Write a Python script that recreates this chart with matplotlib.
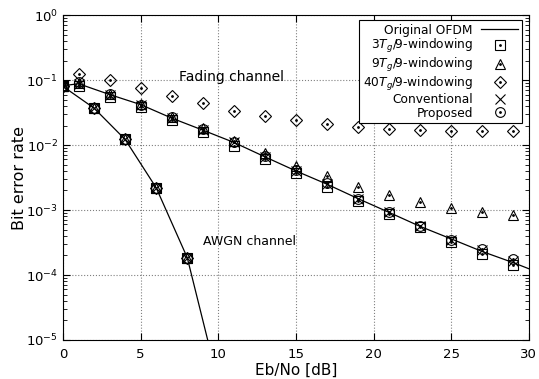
import matplotlib
matplotlib.use("Agg")
import matplotlib.pyplot as plt
import numpy as np
from matplotlib.legend_handler import HandlerTuple

# Fading channel, Eb/No points
snr_fading = [0, 1, 3, 5, 7, 9, 11, 13, 15, 17, 19, 21, 23, 25, 27, 29, 30]
ber_original_fading = [0.082, 0.088, 0.060, 0.042, 0.026, 0.017, 0.011, 0.0066, 0.0040,
                       0.0025, 0.0015, 0.00092, 0.00056, 0.00036, 0.00023, 0.000155, 0.000125]

snr_mark = [0, 1, 3, 5, 7, 9, 11, 13, 15, 17, 19, 21, 23, 25, 27, 29]
ber_3tg = [0.080, 0.080, 0.055, 0.038, 0.024, 0.016, 0.0098, 0.0060, 0.0037,
           0.0023, 0.0014, 0.00088, 0.00055, 0.00032, 0.00021, 0.000145]
ber_9tg = [0.082, 0.090, 0.062, 0.043, 0.027, 0.018, 0.0115, 0.0075, 0.0048,
           0.0034, 0.0023, 0.0017, 0.00135, 0.00106, 0.00092, 0.00083]
ber_40tg = [0.082, 0.125, 0.100, 0.075, 0.057, 0.044, 0.034, 0.028, 0.024,
            0.021, 0.0192, 0.0178, 0.0172, 0.0166, 0.0163, 0.0163]
ber_conv = [0.082, 0.088, 0.060, 0.041, 0.026, 0.017, 0.011, 0.0066, 0.0040,
            0.0025, 0.0015, 0.00092, 0.00056, 0.00034, 0.00024, 0.000165]
ber_prop = [0.082, 0.092, 0.062, 0.042, 0.027, 0.0175, 0.0112, 0.0068, 0.0041,
            0.0026, 0.0015, 0.00094, 0.00057, 0.00035, 0.00025, 0.000175]

# AWGN channel
snr_awgn = [0, 2, 4, 6, 8, 10]
ber_awgn = [0.080, 0.037, 0.0122, 0.0022, 0.000185, 2.2e-6]
snr_awgn_mark = [0, 2, 4, 6, 8]
ber_awgn_mark = [0.080, 0.037, 0.0122, 0.0022, 0.000185]

labels = ["Original OFDM", r"3$T_g$/9-windowing", r"9$T_g$/9-windowing",
          r"40$T_g$/9-windowing", "Conventional", "Proposed"]

plt.rcParams['font.family'] = ['DejaVu Sans']
fig = plt.figure(figsize=(5.39, 3.79), dpi=100)
ax = fig.add_axes([0.117, 0.103, 0.864, 0.857])

ax.plot(snr_fading, ber_original_fading, color='black', lw=0.9, zorder=3)
ax.plot(snr_awgn, ber_awgn, color='black', lw=0.9, zorder=3)

mk = dict(ls='none', mfc='none', mec='black', mew=0.8, zorder=4)
dot = dict(ls='none', marker='.', color='black', ms=2, zorder=5)
series = [(ber_3tg, 's', 7), (ber_9tg, '^', 7.5), (ber_40tg, 'D', 6),
          (ber_conv, 'x', 7), (ber_prop, 'o', 7)]
handles = []
line_h, = ax.plot([], [], color='black', lw=0.9)
handles.append(line_h)
for vals, m, size in series:
    h, = ax.plot(snr_mark, vals, marker=m, ms=size, **mk)
    ax.plot(snr_awgn_mark, ber_awgn_mark, marker=m, ms=size, **mk)
    if m != 'x':
        d, = ax.plot(snr_mark, vals, **dot)
        handles.append((h, d))
    else:
        handles.append(h)

ax.set_yscale('log')
ax.set_xlim(0, 30)
ax.set_ylim(1e-5, 1)
ax.set_xticks([0, 5, 10, 15, 20, 25, 30])
ax.tick_params(which='both', direction='in', top=True, right=True, labelsize=9.5)
ax.tick_params(which='major', length=5)
ax.tick_params(which='minor', length=3)
ax.tick_params(axis='x', pad=6)
ax.grid(True, which='major', linestyle=':', color='gray', lw=0.8)
ax.set_xlabel('Eb/No [dB]', fontsize=11, labelpad=1)
ax.set_ylabel('Bit error rate', fontsize=11.5, labelpad=-1)

ax.text(7.5, 0.112, 'Fading channel', fontsize=10, va='center', ha='left')
ax.text(9.0, 3.3e-4, 'AWGN channel', fontsize=9, va='center', ha='left')

leg = ax.legend(handles, labels, loc='upper right', markerfirst=False, fontsize=8.8,
                handler_map={tuple: HandlerTuple(ndivide=1, pad=0)}, fancybox=False,
                framealpha=1, edgecolor='black', handlelength=3.0,
                labelspacing=0.05, borderpad=0.3, handletextpad=0.7,
                borderaxespad=0, bbox_to_anchor=(0.985, 0.985))
leg.get_frame().set_linewidth(0.8)
for t in leg.get_texts():
    t.set_ha('right')
leg._legend_box.align = 'right'

fig.savefig('out.png', dpi=100)
